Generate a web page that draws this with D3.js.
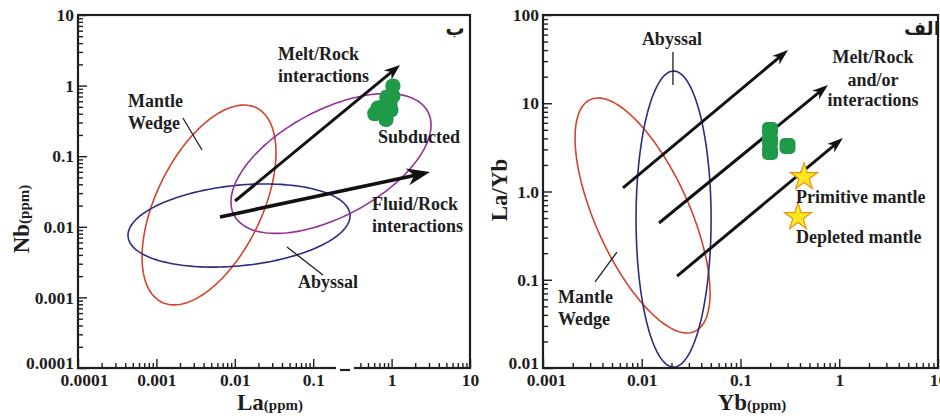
<!DOCTYPE html>
<html><head><meta charset="utf-8">
<script src="https://cdn.jsdelivr.net/npm/d3@7"></script>
<style>
html,body{margin:0;padding:0;background:#fff;}
svg{display:block;font-family:"Liberation Serif","Times New Roman",serif;font-weight:bold;}
</style></head><body>
<svg id="chart" width="940" height="419"></svg>
<script>
// ---------- data ----------
// left panel (ب): La(ppm) vs Nb(ppm)
const leftXTicks = [0.0001, 0.001, 0.01, 0.1, 1, 10];
const leftXLabels = ['0.0001', '0.001', '0.01', '0.1', '1', '10'];
const leftYTicks = [0.0001, 0.001, 0.01, 0.1, 1, 10];
const leftYLabels = ['0.0001', '0.001', '0.01', '0.1', '1', '10'];
// fields: centre (data units) and two conjugate semi-axes in decades [dlogX, dlogY]
const leftFields = [
  {name: 'Mantle Wedge', c: [0.00469, 0.0204], u: [0.602, 1.377], v: [0.606, -0.327]},
  {name: 'Abyssal',      c: [0.01132, 0.01042], u: [1.415, 0.159], v: [0.0515, -0.567]},
  {name: 'Subducted',    c: [0.1687, 0.0789],  u: [1.235, 0.735], v: [0.320, -0.664]}
];
const leftArrows = [
  {name: 'Melt/Rock',  from: [0.01007, 0.0232], to: [1.28, 1.96]},
  {name: 'Fluid/Rock', from: [0.00648, 0.01377], to: [3.09, 0.0597]}
];
const leftSamples = [
  [1.04, 0.99], [1.04, 0.71], [0.955, 0.55], [0.80, 0.51], [0.67, 0.48],
  [0.61, 0.40], [0.80, 0.40], [0.85, 0.33], [0.98, 0.45], [0.87, 0.69]
];
const leftLabels = [
  {text: 'Melt/Rock',    at: [0.0356, 2.31]},
  {text: 'interactions', at: [0.0356, 1.12]},
  {text: 'Mantle',       at: [0.000434, 0.497]},
  {text: 'Wedge',        at: [0.000434, 0.243]},
  {text: 'Subducted',    at: [0.671, 0.154]},
  {text: 'Fluid/Rock',   at: [0.562, 0.0173]},
  {text: 'interactions', at: [0.562, 0.00843]},
  {text: 'Abyssal',      at: [0.064, 0.00136]}
];
const leftLeaders = [
  [[0.00218, 0.348], [0.00382, 0.1225]],
  [[0.0463, 0.00518], [0.133, 0.00207]]
];
const leftTag = {text: 'ب', at: [6.44, 5.21]};

// right panel (الف): Yb(ppm) vs La/Yb
const rightXTicks = [0.001, 0.01, 0.1, 1, 10];
const rightXLabels = ['0.001', '0.01', '0.1', '1', '10'];
const rightYTicks = [0.01, 0.1, 1, 10, 100];
const rightYLabels = ['0.01', '0.1', '1.0', '10', '100'];
const rightFields = [
  {name: 'Mantle Wedge', c: [0.01019, 0.5346], u: [0.529, -1.313], v: [-0.433, -0.219]},
  {name: 'Abyssal',      c: [0.0210, 0.4875],  u: [0, 1.677],      v: [0.380, 0]}
];
const rightArrows = [
  {from: [0.00646, 1.10], to: [0.303, 40.1]},
  {from: [0.01496, 0.44], to: [0.769, 16.1]},
  {from: [0.0228, 0.110], to: [1.09, 4.04]}
];
const rightSamples = [[0.199, 4.98], [0.199, 3.73], [0.199, 2.80], [0.299, 3.28]];
const rightStars = [
  {name: 'Primitive mantle', at: [0.44, 1.46]},
  {name: 'Depleted mantle',  at: [0.382, 0.514]}
];
const rightLabels = [
  {text: 'Abyssal',          at: [0.0202, 45.7], anchor: 'middle'},
  {text: 'Melt/Rock',        at: [2.20, 28.6],   anchor: 'middle'},
  {text: 'and/or',           at: [2.20, 15.7],   anchor: 'middle'},
  {text: 'interactions',     at: [2.20, 9.31],   anchor: 'middle'},
  {text: 'Primitive mantle', at: [0.365, 0.741]},
  {text: 'Depleted mantle',  at: [0.365, 0.261]},
  {text: 'Mantle',           at: [0.00142, 0.0546]},
  {text: 'Wedge',            at: [0.00142, 0.0307]}
];
const rightLeaders = [
  [[0.0207, 38.1], [0.0207, 16.1]],
  [[0.00561, 0.206], [0.00337, 0.0944]]
];
const rightTag = {text: 'الف', at: [6.89, 59.3]};

// ---------- drawing ----------
const svg = d3.select('#chart');
const INK = '#1e1e1e';
const fieldColor = {'Mantle Wedge': '#d2432c', 'Abyssal': '#2e2b82', 'Subducted': '#94309a'};

function minorTicks(majors) {
  const out = [];
  majors.slice(0, -1).forEach(d => { for (let k = 2; k <= 9; k++) out.push(d * k); });
  return out;
}

function drawPanel(p) {
  const {x, y} = p;
  const g = svg.append('g');
  const [x0, x1] = x.range(), [yb, yt] = y.range();

  // fields (ellipses built in log space)
  const line = d3.line().curve(d3.curveLinearClosed);
  p.fields.forEach(f => {
    const lx = Math.log10(f.c[0]), ly = Math.log10(f.c[1]);
    const pts = d3.range(0, 2 * Math.PI, Math.PI / 90).map(t => [
      x(Math.pow(10, lx + f.u[0] * Math.cos(t) + f.v[0] * Math.sin(t))),
      y(Math.pow(10, ly + f.u[1] * Math.cos(t) + f.v[1] * Math.sin(t)))
    ]);
    g.append('path').attr('d', line(pts))
      .attr('fill', 'none').attr('stroke', fieldColor[f.name]).attr('stroke-width', 1.6);
  });

  // leader lines
  g.selectAll('line.leader').data(p.leaders).join('line')
    .attr('x1', d => x(d[0][0])).attr('y1', d => y(d[0][1]))
    .attr('x2', d => x(d[1][0])).attr('y2', d => y(d[1][1]))
    .attr('stroke', INK).attr('stroke-width', 1.3);

  // arrows
  p.arrows.forEach((a, i) => {
    const sx = x(a.from[0]), sy = y(a.from[1]);
    const tx = x(a.to[0]), ty = y(a.to[1]);
    const hs = p.headStyle[i];
    const len = Math.hypot(tx - sx, ty - sy);
    const ux = (tx - sx) / len, uy = (ty - sy) / len;
    const nx = -uy, ny = ux;
    g.append('line')
      .attr('x1', sx).attr('y1', sy)
      .attr('x2', tx - ux * hs.L * 0.6).attr('y2', ty - uy * hs.L * 0.6)
      .attr('stroke', '#111').attr('stroke-width', hs.w);
    const bx = tx - ux * hs.L, by = ty - uy * hs.L;
    const head = [
      [tx, ty],
      [bx + nx * hs.W / 2, by + ny * hs.W / 2],
      [tx - ux * hs.L * 0.7, ty - uy * hs.L * 0.7],
      [bx - nx * hs.W / 2, by - ny * hs.W / 2]
    ];
    g.append('path').attr('d', 'M' + head.join('L') + 'Z').attr('fill', '#111');
  });

  // samples
  g.selectAll('rect.sample').data(p.samples).join('rect')
    .attr('x', d => x(d[0]) - p.sampleSize / 2)
    .attr('y', d => y(d[1]) - p.sampleSize / 2)
    .attr('width', p.sampleSize).attr('height', p.sampleSize)
    .attr('rx', p.sampleRound).attr('fill', '#1f9a48');

  // stars
  if (p.stars) {
    g.selectAll('path.star').data(p.stars).join('path')
      .attr('d', d3.symbol(d3.symbolStar, 230)())
      .attr('transform', d => `translate(${x(d.at[0])},${y(d.at[1])})`)
      .attr('fill', '#ffe81c').attr('stroke', '#e2971c').attr('stroke-width', 1.2);
  }

  // annotation text
  g.selectAll('text.lab').data(p.labels).join('text')
    .attr('x', d => x(d.at[0])).attr('y', d => y(d.at[1]))
    .attr('text-anchor', d => d.anchor || 'start')
    .attr('font-size', 18).attr('fill', INK).text(d => d.text);

  g.append('text').attr('x', x(p.tag.at[0])).attr('y', y(p.tag.at[1]))
    .attr('text-anchor', 'middle').attr('font-family', '"DejaVu Sans", sans-serif')
    .attr('font-size', 19).attr('font-weight', 'bold').attr('fill', INK).text(p.tag.text);

  // axes: majors with labels, minors without (ticks point inward)
  const styleAxis = sel => {
    sel.attr('font-family', null).attr('font-size', null);
    sel.select('.domain').remove();
    sel.selectAll('line').attr('stroke', INK).attr('stroke-width', 1.4);
    sel.selectAll('text').attr('font-size', 17.5).attr('fill', INK);
  };
  const xMaj = g.append('g').attr('transform', `translate(0,${yb})`)
    .call(d3.axisBottom(x).tickValues(p.xTicks).tickSize(-9).tickPadding(6)
      .tickFormat((d, i) => p.xLabels[i]))
    .call(styleAxis);
  // first label sits a little right of the corner
  xMaj.selectAll('.tick text').filter((d, i) => i === 0).attr('dx', p.firstXShift);
  g.append('g').attr('transform', `translate(0,${yb})`)
    .call(d3.axisBottom(x).tickValues(minorTicks(p.xTicks)).tickSize(-5).tickFormat(''))
    .call(styleAxis);
  const yMaj = g.append('g').attr('transform', `translate(${x0},0)`)
    .call(d3.axisLeft(y).tickValues(p.yTicks).tickSize(-9).tickPadding(4)
      .tickFormat((d, i) => p.yLabels[i]))
    .call(styleAxis);
  // lowest label sits a little above the corner
  yMaj.selectAll('.tick text').filter((d, i) => i === 0).attr('dy', '0.05em');
  g.append('g').attr('transform', `translate(${x0},0)`)
    .call(d3.axisLeft(y).tickValues(minorTicks(p.yTicks)).tickSize(-5).tickFormat(''))
    .call(styleAxis);

  // frame
  g.append('rect').attr('x', x0).attr('y', yt).attr('width', x1 - x0).attr('height', yb - yt)
    .attr('fill', 'none').attr('stroke', INK).attr('stroke-width', 2.2);

  // axis titles
  const xt = g.append('text').attr('x', p.xTitlePos[0]).attr('y', p.xTitlePos[1])
    .attr('text-anchor', 'middle').attr('fill', INK);
  xt.append('tspan').attr('font-size', 23).text(p.xTitle[0]);
  xt.append('tspan').attr('font-size', 15).text(p.xTitle[1]);
  const yt2 = g.append('text')
    .attr('transform', `translate(${p.yTitlePos[0]},${p.yTitlePos[1]}) rotate(-90)`)
    .attr('text-anchor', 'middle').attr('fill', INK);
  yt2.append('tspan').attr('font-size', 23).text(p.yTitle[0]);
  if (p.yTitle[1]) yt2.append('tspan').attr('font-size', 15).text(p.yTitle[1]);
  return g;
}

const left = drawPanel({
  x: d3.scaleLog().domain([0.0001, 10]).range([78, 470]),
  y: d3.scaleLog().domain([0.0001, 10]).range([368, 15]),
  xTicks: leftXTicks, xLabels: leftXLabels, yTicks: leftYTicks, yLabels: leftYLabels,
  fields: leftFields, arrows: leftArrows, samples: leftSamples,
  labels: leftLabels, leaders: leftLeaders, tag: leftTag,
  headStyle: [{L: 16, W: 12, w: 3}, {L: 23, W: 17, w: 3.6}],
  sampleSize: 15, sampleRound: 7, firstXShift: 6,
  xTitle: ['La', '(ppm)'], xTitlePos: [270, 410],
  yTitle: ['Nb', '(ppm)'], yTitlePos: [29, 219]
});
// small break in the left x axis, as in the original scan
left.append('rect').attr('x', 336).attr('y', 358).attr('width', 18).attr('height', 12).attr('fill', '#fff');
left.append('line').attr('x1', 340).attr('x2', 350).attr('y1', 370).attr('y2', 370)
  .attr('stroke', INK).attr('stroke-width', 2.2);

drawPanel({
  x: d3.scaleLog().domain([0.001, 10]).range([543, 938]),
  y: d3.scaleLog().domain([0.01, 100]).range([368, 15]),
  xTicks: rightXTicks, xLabels: rightXLabels, yTicks: rightYTicks, yLabels: rightYLabels,
  fields: rightFields, arrows: rightArrows, samples: rightSamples, stars: rightStars,
  labels: rightLabels, leaders: rightLeaders, tag: rightTag,
  headStyle: [{L: 16, W: 11, w: 3}, {L: 16, W: 11, w: 3}, {L: 16, W: 11, w: 3}],
  sampleSize: 16, sampleRound: 5, firstXShift: 3,
  xTitle: ['Yb', '(ppm)'], xTitlePos: [752, 410],
  yTitle: ['La/Yb'], yTitlePos: [507, 190]
});
</script>
</body></html>
